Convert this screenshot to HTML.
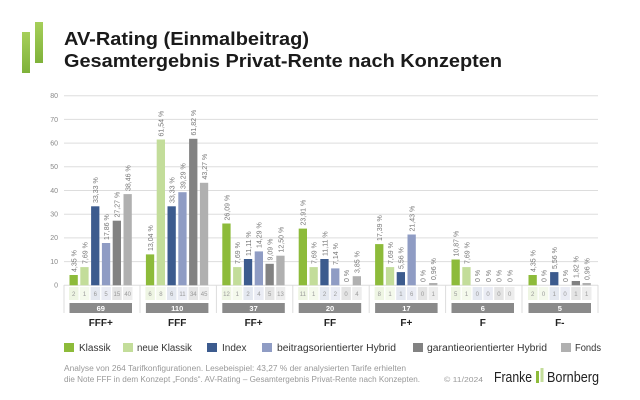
<!DOCTYPE html>
<html><head><meta charset="utf-8"><style>
html,body{margin:0;padding:0;background:#fff;width:640px;height:400px;overflow:hidden}
svg{display:block;font-family:"Liberation Sans",sans-serif}
.v{font-size:7px;fill:#777}
.c{font-size:6px;fill:#999;text-anchor:middle}
.t{font-size:7.5px;fill:#fff;font-weight:bold;text-anchor:middle}
.k{font-size:10px;fill:#222;font-weight:bold;text-anchor:middle}
.y{font-size:7px;fill:#888;text-anchor:end}
.l{font-size:10px;fill:#333}
</style></head><body>
<svg width="640" height="400" viewBox="0 0 640 400">
<defs><linearGradient id="lg" x1="0" y1="0" x2="0" y2="1"><stop offset="0" stop-color="#a6cf5a"/><stop offset="1" stop-color="#7fb23a"/></linearGradient></defs>
<rect x="22" y="32" width="8" height="41" fill="url(#lg)"/>
<rect x="35" y="22" width="8" height="41" fill="url(#lg)"/>
<text x="64" y="45" font-size="18" font-weight="bold" fill="#1a1a1a" textLength="245" lengthAdjust="spacingAndGlyphs">AV-Rating (Einmalbeitrag)</text>
<text x="64" y="67" font-size="18" font-weight="bold" fill="#1a1a1a" textLength="438" lengthAdjust="spacingAndGlyphs">Gesamtergebnis Privat-Rente nach Konzepten</text>
<g stroke="#dddddd" stroke-width="1">
<line x1="64" x2="598" y1="95.7" y2="95.7"/><line x1="64" x2="598" y1="119.4" y2="119.4"/><line x1="64" x2="598" y1="143.1" y2="143.1"/><line x1="64" x2="598" y1="166.8" y2="166.8"/><line x1="64" x2="598" y1="190.5" y2="190.5"/><line x1="64" x2="598" y1="214.2" y2="214.2"/><line x1="64" x2="598" y1="237.9" y2="237.9"/><line x1="64" x2="598" y1="261.6" y2="261.6"/><line x1="64" x2="598" y1="285.3" y2="285.3"/>
<line x1="64" x2="64" y1="285" y2="313"/><line x1="140" x2="140" y1="285" y2="313"/><line x1="216.4" x2="216.4" y1="285" y2="313"/><line x1="292.8" x2="292.8" y1="285" y2="313"/><line x1="369.2" x2="369.2" y1="285" y2="313"/><line x1="445.6" x2="445.6" y1="285" y2="313"/><line x1="522" x2="522" y1="285" y2="313"/><line x1="598" x2="598" y1="285" y2="313"/>
</g>
<g class="y"><text x="58" y="98">80</text><text x="58" y="122">70</text><text x="58" y="145.5">60</text><text x="58" y="169">50</text><text x="58" y="193">40</text><text x="58" y="216.5">30</text><text x="58" y="240">20</text><text x="58" y="264">10</text><text x="58" y="287.5">0</text></g>

<g>
<rect x="69.5" y="275.0" width="8.3" height="10.3" fill="#8dbb3a"/>
<rect x="80.3" y="267.1" width="8.3" height="18.2" fill="#c3dd9a"/>
<rect x="91.1" y="206.3" width="8.3" height="79.0" fill="#3c5b8e"/>
<rect x="101.9" y="243.0" width="8.3" height="42.3" fill="#8f9cc4"/>
<rect x="112.7" y="220.7" width="8.3" height="64.6" fill="#828282"/>
<rect x="123.5" y="194.1" width="8.3" height="91.2" fill="#b0b0b0"/>

<rect x="145.9" y="254.4" width="8.3" height="30.9" fill="#8dbb3a"/>
<rect x="156.7" y="139.5" width="8.3" height="145.8" fill="#c3dd9a"/>
<rect x="167.5" y="206.3" width="8.3" height="79.0" fill="#3c5b8e"/>
<rect x="178.3" y="192.2" width="8.3" height="93.1" fill="#8f9cc4"/>
<rect x="189.1" y="138.8" width="8.3" height="146.5" fill="#828282"/>
<rect x="199.9" y="182.8" width="8.3" height="102.5" fill="#b0b0b0"/>

<rect x="222.3" y="223.5" width="8.3" height="61.8" fill="#8dbb3a"/>
<rect x="233.1" y="267.1" width="8.3" height="18.2" fill="#c3dd9a"/>
<rect x="243.9" y="259.0" width="8.3" height="26.3" fill="#3c5b8e"/>
<rect x="254.7" y="251.4" width="8.3" height="33.9" fill="#8f9cc4"/>
<rect x="265.5" y="263.8" width="8.3" height="21.5" fill="#828282"/>
<rect x="276.3" y="255.7" width="8.3" height="29.6" fill="#b0b0b0"/>

<rect x="298.7" y="228.6" width="8.3" height="56.7" fill="#8dbb3a"/>
<rect x="309.5" y="267.1" width="8.3" height="18.2" fill="#c3dd9a"/>
<rect x="320.3" y="259.0" width="8.3" height="26.3" fill="#3c5b8e"/>
<rect x="331.1" y="268.4" width="8.3" height="16.9" fill="#8f9cc4"/>
<rect x="352.7" y="276.2" width="8.3" height="9.1" fill="#b0b0b0"/>

<rect x="375.1" y="244.1" width="8.3" height="41.2" fill="#8dbb3a"/>
<rect x="385.9" y="267.1" width="8.3" height="18.2" fill="#c3dd9a"/>
<rect x="396.7" y="272.1" width="8.3" height="13.2" fill="#3c5b8e"/>
<rect x="407.5" y="234.5" width="8.3" height="50.8" fill="#8f9cc4"/>
<rect x="429.1" y="283.0" width="8.3" height="2.3" fill="#b0b0b0"/>

<rect x="451.5" y="259.5" width="8.3" height="25.8" fill="#8dbb3a"/>
<rect x="462.3" y="267.1" width="8.3" height="18.2" fill="#c3dd9a"/>

<rect x="528.5" y="275.0" width="8.3" height="10.3" fill="#8dbb3a"/>
<rect x="550.1" y="272.1" width="8.3" height="13.2" fill="#3c5b8e"/>
<rect x="571.7" y="281.0" width="8.3" height="4.3" fill="#828282"/>
<rect x="582.5" y="283.0" width="8.3" height="2.3" fill="#b0b0b0"/>
</g>

<g class="v">
<text transform="translate(76.5,272) rotate(-90)">4,35 %</text>
<text transform="translate(87.3,264) rotate(-90)">7,69 %</text>
<text transform="translate(98.1,203) rotate(-90)">33,33 %</text>
<text transform="translate(108.9,240) rotate(-90)">17,86 %</text>
<text transform="translate(119.7,217.5) rotate(-90)">27,27 %</text>
<text transform="translate(130.5,191) rotate(-90)">38,46 %</text>

<text transform="translate(152.9,251) rotate(-90)">13,04 %</text>
<text transform="translate(163.7,136.5) rotate(-90)">61,54 %</text>
<text transform="translate(174.5,203) rotate(-90)">33,33 %</text>
<text transform="translate(185.3,189) rotate(-90)">39,29 %</text>
<text transform="translate(196.1,135.5) rotate(-90)">61,82 %</text>
<text transform="translate(206.9,179.5) rotate(-90)">43,27 %</text>

<text transform="translate(229.3,220.5) rotate(-90)">26,09 %</text>
<text transform="translate(240.1,264) rotate(-90)">7,69 %</text>
<text transform="translate(250.9,256) rotate(-90)">11,11 %</text>
<text transform="translate(261.7,248) rotate(-90)">14,29 %</text>
<text transform="translate(272.5,260.5) rotate(-90)">9,09 %</text>
<text transform="translate(283.3,252.5) rotate(-90)">12,50 %</text>

<text transform="translate(305.7,225.5) rotate(-90)">23,91 %</text>
<text transform="translate(316.5,264) rotate(-90)">7,69 %</text>
<text transform="translate(327.3,256) rotate(-90)">11,11 %</text>
<text transform="translate(338.1,265) rotate(-90)">7,14 %</text>
<text transform="translate(348.9,282) rotate(-90)">0 %</text>
<text transform="translate(359.7,273) rotate(-90)">3,85 %</text>

<text transform="translate(382.1,241) rotate(-90)">17,39 %</text>
<text transform="translate(392.9,264) rotate(-90)">7,69 %</text>
<text transform="translate(403.7,269) rotate(-90)">5,56 %</text>
<text transform="translate(414.5,231.5) rotate(-90)">21,43 %</text>
<text transform="translate(425.3,282) rotate(-90)">0 %</text>
<text transform="translate(436.1,280) rotate(-90)">0,96 %</text>

<text transform="translate(458.5,256.5) rotate(-90)">10,87 %</text>
<text transform="translate(469.3,264) rotate(-90)">7,69 %</text>
<text transform="translate(480.1,282) rotate(-90)">0 %</text>
<text transform="translate(490.9,282) rotate(-90)">0 %</text>
<text transform="translate(501.7,282) rotate(-90)">0 %</text>
<text transform="translate(512.5,282) rotate(-90)">0 %</text>

<text transform="translate(535.5,272) rotate(-90)">4,35 %</text>
<text transform="translate(546.3,282) rotate(-90)">0 %</text>
<text transform="translate(557.1,269) rotate(-90)">5,56 %</text>
<text transform="translate(567.9,282) rotate(-90)">0 %</text>
<text transform="translate(578.7,278) rotate(-90)">1,82 %</text>
<text transform="translate(589.5,280) rotate(-90)">0,96 %</text>
</g>

<g>
<g id="cells0">
<rect x="69" y="287" width="9.5" height="13" fill="#eef5e3"/><rect x="79.8" y="287" width="9.5" height="13" fill="#f4f9ec"/><rect x="90.6" y="287" width="9.5" height="13" fill="#e4e8f0"/><rect x="101.4" y="287" width="9.5" height="13" fill="#eaecf4"/><rect x="112.2" y="287" width="9.5" height="13" fill="#e4e4e4"/><rect x="123" y="287" width="9.5" height="13" fill="#ededed"/>
</g>
<use href="#cells0" x="76.4"/><use href="#cells0" x="152.8"/><use href="#cells0" x="229.2"/><use href="#cells0" x="305.6"/><use href="#cells0" x="382"/><use href="#cells0" x="459"/>
</g>
<g class="c">
<text x="73.7" y="296">2</text><text x="84.5" y="296">1</text><text x="95.3" y="296">6</text><text x="106.1" y="296">5</text><text x="116.9" y="296">15</text><text x="127.7" y="296">40</text>
<text x="150.1" y="296">6</text><text x="160.9" y="296">8</text><text x="171.7" y="296">6</text><text x="182.5" y="296">11</text><text x="193.3" y="296">34</text><text x="204.1" y="296">45</text>
<text x="226.5" y="296">12</text><text x="237.3" y="296">1</text><text x="248.1" y="296">2</text><text x="258.9" y="296">4</text><text x="269.7" y="296">5</text><text x="280.5" y="296">13</text>
<text x="302.9" y="296">11</text><text x="313.7" y="296">1</text><text x="324.5" y="296">2</text><text x="335.3" y="296">2</text><text x="346.1" y="296">0</text><text x="356.9" y="296">4</text>
<text x="379.3" y="296">8</text><text x="390.1" y="296">1</text><text x="400.9" y="296">1</text><text x="411.7" y="296">6</text><text x="422.5" y="296">0</text><text x="433.3" y="296">1</text>
<text x="455.7" y="296">5</text><text x="466.5" y="296">1</text><text x="477.3" y="296">0</text><text x="488.1" y="296">0</text><text x="498.9" y="296">0</text><text x="509.7" y="296">0</text>
<text x="532.7" y="296">2</text><text x="543.5" y="296">0</text><text x="554.3" y="296">1</text><text x="565.1" y="296">0</text><text x="575.9" y="296">1</text><text x="586.7" y="296">1</text>
</g>

<g fill="#8a8a8a">
<rect x="69.5" y="303" width="62.5" height="10"/><rect x="145.9" y="303" width="62.5" height="10"/><rect x="222.3" y="303" width="62.5" height="10"/><rect x="298.7" y="303" width="62.5" height="10"/><rect x="375.1" y="303" width="62.5" height="10"/><rect x="451.5" y="303" width="62.5" height="10"/><rect x="528.5" y="303" width="62.5" height="10"/>
</g>
<g class="t">
<text x="100.8" y="310.8">69</text><text x="177.2" y="310.8">110</text><text x="253.6" y="310.8">37</text><text x="330" y="310.8">20</text><text x="406.4" y="310.8">17</text><text x="482.8" y="310.8">6</text><text x="559.8" y="310.8">5</text>
</g>
<g class="k">
<text x="100.8" y="326">FFF+</text><text x="177.2" y="326">FFF</text><text x="253.6" y="326">FF+</text><text x="330" y="326">FF</text><text x="406.4" y="326">F+</text><text x="482.8" y="326">F</text><text x="559.8" y="326">F-</text>
</g>

<rect x="64" y="343" width="10" height="9" fill="#8dbb3a"/><text class="l" x="79" y="351">Klassik</text>
<rect x="123" y="343" width="10" height="9" fill="#c3dd9a"/><text class="l" x="137" y="351" textLength="55" lengthAdjust="spacingAndGlyphs">neue Klassik</text>
<rect x="207" y="343" width="10" height="9" fill="#3c5b8e"/><text class="l" x="222" y="351">Index</text>
<rect x="262" y="343" width="10" height="9" fill="#8f9cc4"/><text class="l" x="277" y="351" textLength="119" lengthAdjust="spacingAndGlyphs">beitragsorientierter Hybrid</text>
<rect x="413" y="343" width="10" height="9" fill="#828282"/><text class="l" x="427" y="351" textLength="120" lengthAdjust="spacingAndGlyphs">garantieorientierter Hybrid</text>
<rect x="561" y="343" width="10" height="9" fill="#b0b0b0"/><text class="l" x="575" y="351" textLength="26" lengthAdjust="spacingAndGlyphs">Fonds</text>

<text x="64" y="371" font-size="8" fill="#999" textLength="342" lengthAdjust="spacingAndGlyphs">Analyse von 264 Tarifkonfigurationen. Lesebeispiel: 43,27 % der analysierten Tarife erhielten</text>
<text x="64" y="382" font-size="8" fill="#999" textLength="356" lengthAdjust="spacingAndGlyphs">die Note FFF in dem Konzept „Fonds“. AV-Rating – Gesamtergebnis Privat-Rente nach Konzepten.</text>
<text x="444" y="382" font-size="7.5" fill="#999" textLength="39" lengthAdjust="spacingAndGlyphs">© 11/2024</text>
<text x="494" y="382" font-size="15" fill="#222" textLength="38" lengthAdjust="spacingAndGlyphs">Franke</text>
<rect x="536" y="371" width="3" height="12" fill="#8dbb3a"/><rect x="540.5" y="368" width="3" height="14" fill="#c3dd9a"/>
<text x="547" y="382" font-size="15" fill="#222" textLength="52" lengthAdjust="spacingAndGlyphs">Bornberg</text>
</svg>
</body></html>
